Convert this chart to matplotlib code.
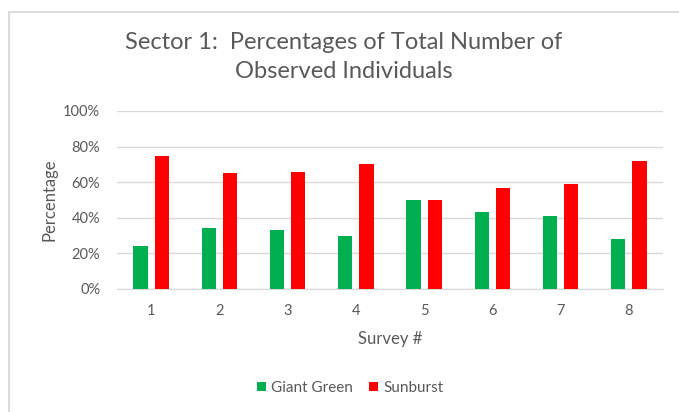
import matplotlib
matplotlib.use("Agg")
import matplotlib.pyplot as plt
from matplotlib.patches import Rectangle
import numpy as np

plt.rcParams['font.family'] = ['Lato', 'DejaVu Sans']

surveys = ['1', '2', '3', '4', '5', '6', '7', '8']
giant_green = [24, 34, 33, 30, 50, 43, 41, 28]
sunburst = [75, 65, 66, 70, 50, 57, 59, 72]
y_ticks = [0, 20, 40, 60, 80, 100]
y_tick_labels = ['0%', '20%', '40%', '60%', '80%', '100%']

text_gray = '#595959'
grid_gray = '#d9d9d9'

fig = plt.figure(figsize=(6.79, 4.12), dpi=100)
fig.patch.set_facecolor('white')

# chart frame (runs off the right and bottom edges)
fig.patches.append(Rectangle((9 / 679, -0.05), 1.2, 1.05 - 12 / 412,
                             transform=fig.transFigure, fill=False,
                             edgecolor='#d4d4d4', linewidth=1.2))

ax = fig.add_axes([117 / 679, 1 - 289 / 412, 546 / 679, 178 / 412])

x = np.arange(len(surveys))
w = 0.21
ax.bar(x - 0.155, giant_green, width=w, color='#00b050', label='Giant Green', zorder=3)
ax.bar(x + 0.155, sunburst, width=w, color='#ff0000', label='Sunburst', zorder=3)

ax.set_xlim(-0.5, len(surveys) - 0.5)
ax.set_ylim(0, 100)
ax.set_yticks(y_ticks)
ax.set_yticklabels(y_tick_labels)
ax.set_xticks(x)
ax.set_xticklabels(surveys)
ax.tick_params(length=0, labelsize=10.5, labelcolor=text_gray)
ax.tick_params(axis='y', pad=12)
ax.tick_params(axis='x', pad=11)
ax.grid(axis='y', color=grid_gray, linewidth=1, zorder=0)
for side in ['top', 'right', 'left']:
    ax.spines[side].set_visible(False)
ax.spines['bottom'].set_color(grid_gray)

ax.set_ylabel('Percentage', fontsize=12, color=text_gray, labelpad=4)
ax.set_xlabel('Survey #', fontsize=12, color=text_gray, labelpad=9)

fig.text(344 / 679, 1 - 57 / 412, 'Sector 1:  Percentages of Total Number of\nObserved Individuals',
         ha='center', va='center', fontsize=17, color=text_gray, linespacing=1.5)

fig.legend(loc='center', bbox_to_anchor=(350 / 679, 1 - 388 / 412), ncol=2, frameon=False,
           fontsize=11, labelcolor=text_gray, handlelength=0.6, handleheight=0.6,
           handletextpad=0.3, columnspacing=1.1)

fig.savefig('out.png', dpi=100)
